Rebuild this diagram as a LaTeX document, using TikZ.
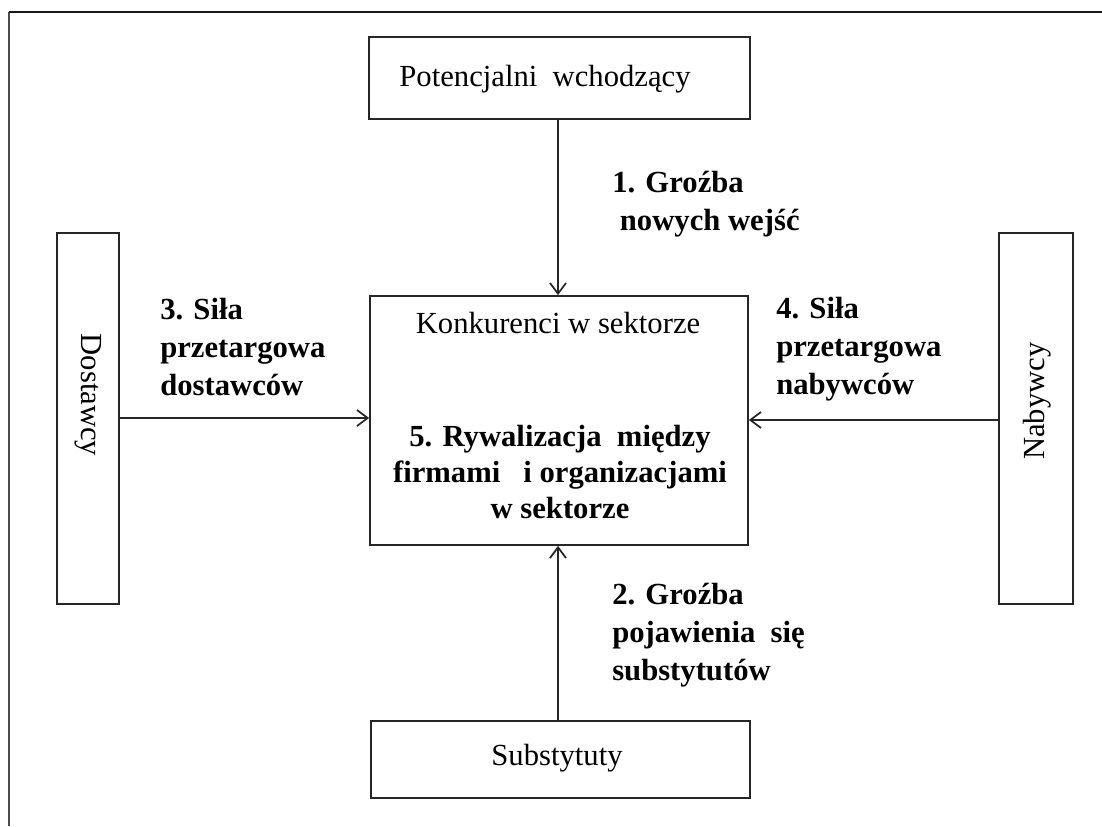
\documentclass[tikz,border=0pt]{standalone}
\usepackage{fontspec}
\setmainfont{Liberation Serif}
\usetikzlibrary{arrows.meta}
\begin{document}
\begin{tikzpicture}[x=0.75pt,y=-0.75pt,
  box/.style={draw=black!85,line width=1.3pt,inner sep=0pt},
  lbl/.style={font=\fontsize{23}{28.5}\selectfont,inner sep=0pt},
  force/.style={font=\fontsize{23}{28.5}\selectfont\bfseries,inner sep=0pt,align=left,anchor=west},
  flow/.style={draw=black!85,line width=1.2pt,-{Straight Barb[length=8pt,width=12pt,line width=1.3pt]}}]
\useasboundingbox (0,0) rectangle (1102,826);
% outer frame (only top and left edges fall inside the page)
\draw[black!70,line width=2pt] (9,826) -- (9,12);
\draw[black!90,line width=1.3pt] (8.5,12) -- (1102,12);

% boxes
\node[box,minimum width=381*0.75pt,minimum height=82*0.75pt] (top) at (559.5,78) {};
\node[box,minimum width=378*0.75pt,minimum height=249*0.75pt] (mid) at (559,420.5) {};
\node[box,minimum width=379*0.75pt,minimum height=77*0.75pt] (bot) at (560.5,759.5) {};
\node[box,minimum width=62*0.75pt,minimum height=371*0.75pt] (sup) at (88,418.5) {};
\node[box,minimum width=74*0.75pt,minimum height=371*0.75pt] (buy) at (1036,418.5) {};

% box texts
\node[lbl] (toptext) at (545,79) {Potencjalni\ \ wchodzący};
\node[lbl] (midtitle) at (558,323) {Konkurenci w sektorze};
\node[lbl,font=\fontsize{23}{27}\selectfont\bfseries,align=center] (rivalry) at (560,472)
  {5. Rywalizacja\ \ między\\firmami\ \ \ i organizacjami\\w sektorze};
\node[lbl] (bottext) at (557,758) {Substytuty};
\node[lbl,rotate=-90] (suptext) at (88,395) {Dostawcy};
\node[lbl,rotate=90] (buytext) at (1037,401) {Nabywcy};

% force labels
\node[force] (f1) at (612,204) {1. Groźba\\\ nowych wejść};
\node[force] (f3) at (160,347) {3. Siła\\przetargowa\\dostawców};
\node[force] (f4) at (776,349) {4. Siła\\przetargowa\\nabywców};
\node[force] (f2) at (612,635) {2. Groźba\\pojawienia\ \ się\\substytutów};

% connectors
\draw[flow] (top.south -| 558,0) -- (mid.north -| 558,0);
\draw[flow] (bot.north -| 558,0) -- (mid.south -| 558,0);
\draw[flow] (sup.east |- 0,418) -- (mid.west |- 0,418);
\draw[flow] (buy.west |- 0,420) -- (mid.east |- 0,420);
\end{tikzpicture}
\end{document}
